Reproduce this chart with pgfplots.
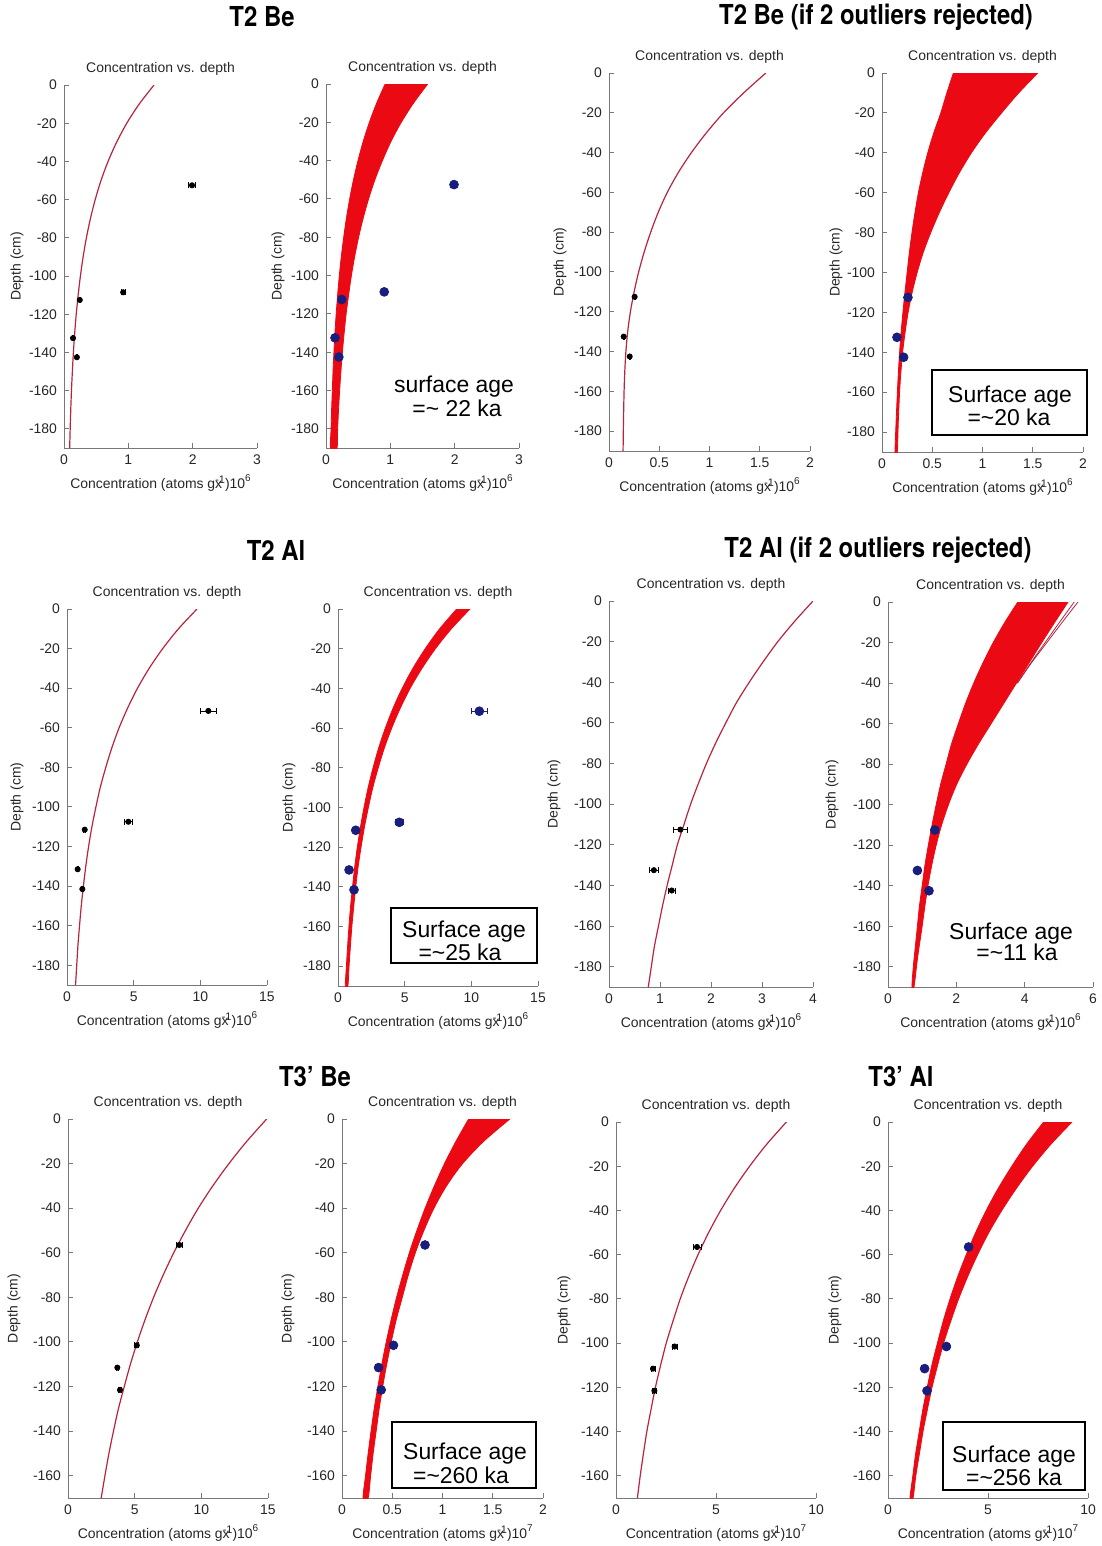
\documentclass[border=0pt]{standalone}
\usepackage{fontspec}
\setmainfont{Liberation Sans}
\newfontfamily\heros{TeX Gyre Heros}
\usepackage{pgfplots}
\pgfplotsset{compat=1.18}

\definecolor{axgray}{RGB}{120,120,120}
\definecolor{fitred}{RGB}{185,35,60}
\definecolor{bandred}{RGB}{235,10,20}
\definecolor{dotblue}{RGB}{25,30,125}

\newcommand{\xlab}[1]{Concentration (atoms g\rlap{x}\raisebox{0.7ex}{\fontsize{5.5}{5.5}\selectfont -1})10\raisebox{0.9ex}{\fontsize{5}{5}\selectfont #1}}

\pgfplotsset{
  pnl/.style={
    scale only axis,
    axis lines*=left,
    axis line style={draw=axgray, line width=0.5bp},
    tick style={draw=axgray, line width=0.5bp},
    tick align=inside,
    major tick length=2.5bp,
    xmin=0, ymax=0,
    clip=true,
    /pgf/number format/assume math mode=true,
    ticklabel style={font=\fontsize{7}{8}\selectfont, text=black!85},
    title={Concentration vs. depth},
    title style={font=\fontsize{7}{8}\selectfont, text=black!85,
      at={(axis description cs:0.5,1)}, anchor=center, yshift=2bp},
    ylabel={Depth (cm)},
    label style={font=\fontsize{7}{8}\selectfont, text=black!85},
    xlabel style={at={([yshift=-17.5bp]axis description cs:0.5,0)}, anchor=center},
  },
  dl/.style={ylabel style={at={([xshift=-#1]axis description cs:0,0.5)}, anchor=center}},
  rowa/.style={ymin=-190, ytick={-180,-160,-140,-120,-100,-80,-60,-40,-20,0},
    yticklabels={-180,-160,-140,-120,-100,-80,-60,-40,-20,0}},
  rowc/.style={ymin=-170, ytick={-160,-140,-120,-100,-80,-60,-40,-20,0},
    yticklabels={-160,-140,-120,-100,-80,-60,-40,-20,0}},
  fit/.style={fitred, line width=0.6bp, no marks, smooth},
  band/.style={fill=bandred, draw=bandred, line width=0.4bp, no marks, smooth},
  blk/.style={only marks, mark=*, mark size=1.3bp, black,
    error bars/.cd, x dir=both, x explicit,
    error bar style={line width=0.4bp, black},
    error mark options={rotate=90, mark size=1.5bp, line width=0.4bp, black}},
  blu/.style={only marks, mark=*, mark size=2.2bp, dotblue,
    mark options={fill=dotblue, draw=dotblue},
    error bars/.cd, x dir=both, x explicit,
    error bar style={line width=0.4bp, dotblue},
    error mark options={rotate=90, mark size=1.5bp, line width=0.4bp, dotblue}},
}

\tikzset{
  big/.style={font=\heros\bfseries\fontsize{12}{14}\selectfont},
  age/.style={font=\fontsize{11.5}{12}\selectfont, anchor=base},
  agebox/.style={draw=black, line width=1.2bp},
}

\begin{document}
\begin{tikzpicture}
\useasboundingbox (0,0) rectangle (551bp,-773bp);

% ---------------- row 1 : T2 Be ----------------
\node[big] at (131bp,-8.5bp) {\scalebox{1}[1.15]{T2 Be}};
\node[big] at (438bp,-8.5bp) {\scalebox{1}[1.15]{T2 Be (if 2 outliers rejected)}};

\begin{axis}[pnl, rowa, dl=23.5bp, at={(32bp,-224bp)}, anchor=south west,
  width=96.5bp, height=181.5bp, xmax=3,
  xtick={0,1,2,3}, xticklabels={0,1,2,3}, xlabel={\xlab{6}}]
\addplot[fit] coordinates {(1.40,0) (1.168,-10) (0.976,-20) (0.817,-30) (0.685,-40)
  (0.575,-50) (0.485,-60) (0.41,-70) (0.348,-80) (0.297,-90) (0.255,-100) (0.22,-110)
  (0.19,-120) (0.166,-130) (0.146,-140) (0.13,-150) (0.116,-160) (0.105,-170)
  (0.096,-180) (0.088,-190)};
\addplot[blk] coordinates {(1.99,-52.5) +- (0.06,0) (0.92,-108.5) +- (0.03,0)
  (0.245,-112.5) +- (0.01,0) (0.14,-132.5) +- (0.01,0) (0.2,-142.5) +- (0.01,0)};
\end{axis}

\begin{axis}[pnl, rowa, dl=24bp, at={(163bp,-224bp)}, anchor=south west,
  width=96.5bp, height=182bp, xmax=3,
  xtick={0,1,2,3}, xticklabels={0,1,2,3}, xlabel={\xlab{6}}]
\addplot[band] coordinates {(0.92,0) (0.787,-10) (0.674,-20) (0.578,-30) (0.497,-40)
  (0.427,-50) (0.368,-60) (0.317,-70) (0.275,-80) (0.238,-90) (0.207,-100) (0.181,-110)
  (0.158,-120) (0.139,-130) (0.123,-140) (0.109,-150) (0.098,-160) (0.087,-170)
  (0.079,-180) (0.072,-190)
  (0.17,-190) (0.181,-180) (0.195,-170) (0.212,-160) (0.232,-150) (0.255,-140)
  (0.282,-130) (0.313,-120) (0.352,-110) (0.395,-100) (0.446,-90) (0.507,-80)
  (0.578,-70) (0.662,-60) (0.76,-50) (0.877,-40) (1.01,-30) (1.17,-20) (1.36,-10) (1.58,0)};
\addplot[blu] coordinates {(1.99,-52.5) +- (0.05,0) (0.905,-108.5) +- (0.03,0)
  (0.245,-112.5) +- (0.01,0) (0.14,-132.5) +- (0.01,0) (0.2,-142.5) +- (0.01,0)};
\end{axis}
\node[age] at (227bp,-196bp) {surface age};
\node[age] at (228.5bp,-208bp) {=\textasciitilde{} 22 ka};

\begin{axis}[pnl, rowa, dl=24.5bp, at={(304.5bp,-225.5bp)}, anchor=south west,
  width=100.5bp, height=189bp, xmax=2,
  xtick={0,0.5,1,1.5,2}, xticklabels={0,0.5,1,1.5,2}, xlabel={\xlab{6}}]
\addplot[fit] coordinates {(1.56,0) (1.34,-10) (1.14,-20) (0.97,-30) (0.82,-40)
  (0.69,-50) (0.58,-60) (0.49,-70) (0.415,-80) (0.35,-90) (0.295,-100) (0.25,-110)
  (0.213,-120) (0.186,-130) (0.168,-140) (0.157,-150) (0.15,-160) (0.144,-175)
  (0.14,-190)};
\addplot[blk] coordinates {(0.255,-112.5) +- (0.005,0) (0.146,-132.5) +- (0.005,0)
  (0.206,-142.5) +- (0.005,0)};
\end{axis}

\begin{axis}[pnl, rowa, dl=23bp, at={(441bp,-226bp)}, anchor=south west,
  width=100.5bp, height=189.5bp, xmax=2,
  xtick={0,0.5,1,1.5,2}, xticklabels={0,0.5,1,1.5,2}, xlabel={\xlab{6}}]
\addplot[band] coordinates {(0.71,0) (0.645,-10) (0.585,-20) (0.515,-30) (0.455,-40)
  (0.405,-50) (0.362,-60) (0.328,-70) (0.298,-80) (0.272,-90) (0.25,-100) (0.228,-110)
  (0.208,-120) (0.19,-130) (0.175,-140) (0.163,-150) (0.153,-160) (0.14,-175) (0.13,-190)
  (0.152,-190) (0.162,-175) (0.175,-160) (0.188,-150) (0.205,-140) (0.23,-130)
  (0.26,-120) (0.30,-110) (0.35,-100) (0.41,-90) (0.485,-80) (0.57,-70) (0.665,-60)
  (0.77,-50) (0.89,-40) (1.03,-30) (1.19,-20) (1.36,-10) (1.55,0)};
\addplot[blu] coordinates {(0.258,-112.5) (0.149,-132.5) (0.215,-142.5)};
\end{axis}
\draw[agebox] (466bp,-185bp) rectangle (543.5bp,-217.5bp);
\node[age] at (505bp,-201bp) {Surface age};
\node[age] at (504.5bp,-212.5bp) {=\textasciitilde20 ka};

% ---------------- row 2 : T2 Al ----------------
\node[big] at (138bp,-275bp) {\scalebox{1}[1.15]{T2 Al}};
\node[big] at (439bp,-275bp) {\scalebox{1}[1.15]{T2 Al (if 2 outliers rejected)}};

\begin{axis}[pnl, rowa, dl=25bp, at={(33.5bp,-492.5bp)}, anchor=south west,
  width=100bp, height=188bp, xmax=15,
  xtick={0,5,10,15}, xticklabels={0,5,10,15}, xlabel={\xlab{6}}]
\addplot[fit] coordinates {(9.75,0) (8.36,-10) (7.18,-20) (6.16,-30) (5.29,-40)
  (4.55,-50) (3.91,-60) (3.37,-70) (2.91,-80) (2.5,-90) (2.17,-100) (1.87,-110)
  (1.62,-120) (1.41,-130) (1.23,-140) (1.07,-150) (0.94,-160) (0.82,-170)
  (0.73,-180) (0.64,-190)};
\addplot[blk] coordinates {(10.6,-51.5) +- (0.6,0) (4.6,-107.5) +- (0.3,0)
  (1.33,-111.5) +- (0.08,0) (0.8,-131.5) +- (0.05,0) (1.15,-141.5) +- (0.06,0)};
\end{axis}

\begin{axis}[pnl, rowa, dl=24.5bp, at={(169bp,-493bp)}, anchor=south west,
  width=100bp, height=188.5bp, xmax=15,
  xtick={0,5,10,15}, xticklabels={0,5,10,15}, xlabel={\xlab{6}}]
\addplot[band] coordinates {(8.9,0) (7.62,-10) (6.54,-20) (5.61,-30) (4.81,-40)
  (4.13,-50) (3.55,-60) (3.05,-70) (2.63,-80) (2.26,-90) (1.95,-100) (1.68,-110)
  (1.45,-120) (1.25,-130) (1.09,-140) (0.94,-150) (0.82,-160) (0.72,-170)
  (0.63,-180) (0.55,-190)
  (0.74,-190) (0.83,-180) (0.93,-170) (1.04,-160) (1.18,-150) (1.33,-140) (1.51,-130)
  (1.73,-120) (1.98,-110) (2.28,-100) (2.61,-90) (3.02,-80) (3.48,-70) (4.03,-60)
  (4.67,-50) (5.41,-40) (6.29,-30) (7.31,-20) (8.5,-10) (9.9,0)};
\addplot[blu] coordinates {(10.6,-51.5) +- (0.6,0) (4.6,-107.5) +- (0.3,0)
  (1.33,-111.5) +- (0.08,0) (0.83,-131.5) +- (0.05,0) (1.2,-141.5) +- (0.06,0)};
\end{axis}
\draw[agebox] (195.5bp,-454bp) rectangle (268.5bp,-481.5bp);
\node[age] at (232bp,-468.5bp) {Surface age};
\node[age] at (230bp,-480bp) {=\textasciitilde25 ka};

\begin{axis}[pnl, rowa, dl=27.5bp, at={(304.5bp,-493.5bp)}, anchor=south west,
  width=102bp, height=193bp, xmax=4,
  xtick={0,1,2,3,4}, xticklabels={0,1,2,3,4}, xlabel={\xlab{6}}]
\addplot[fit] coordinates {(4.0,0) (3.64,-10) (3.31,-20) (3.02,-30) (2.75,-40)
  (2.5,-50) (2.29,-60) (2.09,-70) (1.91,-80) (1.75,-90) (1.6,-100) (1.47,-110)
  (1.34,-120) (1.24,-130) (1.14,-140) (1.05,-150) (0.97,-160) (0.89,-170)
  (0.83,-180) (0.77,-190)};
\addplot[blk] coordinates {(1.4,-112.5) +- (0.14,0) (0.88,-132.5) +- (0.09,0)
  (1.23,-142.5) +- (0.07,0)};
\end{axis}

\begin{axis}[pnl, rowa, dl=28bp, at={(444bp,-493.5bp)}, anchor=south west,
  width=102.5bp, height=192.5bp, xmax=6,
  xtick={0,2,4,6}, xticklabels={0,2,4,6}, xlabel={\xlab{6}}]
\addplot[band] coordinates {(3.8,0) (3.42,-10) (3.08,-20) (2.78,-30) (2.51,-40)
  (2.27,-50) (2.06,-60) (1.86,-70) (1.70,-80) (1.54,-90) (1.41,-100) (1.29,-110)
  (1.18,-120) (1.08,-130) (1.0,-140) (0.92,-150) (0.86,-160) (0.80,-170) (0.74,-180)
  (0.70,-190)
  (0.76,-190) (0.87,-175) (1.0,-160) (1.08,-150) (1.17,-140) (1.28,-130) (1.41,-120)
  (1.57,-110) (1.77,-100) (2.01,-90) (2.31,-80) (2.65,-70) (3.02,-60) (3.39,-50)
  (3.76,-40) (4.13,-30) (4.5,-20) (4.88,-10) (5.27,0)};
\addplot[fit, line width=0.4bp] coordinates {(5.45,0) (5.02,-10) (4.6,-20) (4.18,-30) (3.78,-40)};
\addplot[fit, line width=0.4bp] coordinates {(5.56,0) (5.1,-10) (4.65,-20) (4.2,-30) (3.79,-40)};
\addplot[blu] coordinates {(1.37,-112.5) (0.86,-132.5) (1.2,-142.5)};
\end{axis}
\node[age] at (505.5bp,-469.5bp) {Surface age};
\node[age] at (508.5bp,-480bp) {=\textasciitilde11 ka};

% ---------------- row 3 : T3' Be and T3' Al ----------------
\node[big] at (157.5bp,-538.5bp) {\scalebox{1}[1.15]{T3’ Be}};
\node[big] at (450.5bp,-538.5bp) {\scalebox{1}[1.15]{T3’ Al}};

\begin{axis}[pnl, rowc, dl=27bp, at={(34bp,-749bp)}, anchor=south west,
  width=100bp, height=189.5bp, xmax=15,
  xtick={0,5,10,15}, xticklabels={0,5,10,15}, xlabel={\xlab{6}}]
\addplot[fit] coordinates {(14.9,0) (13.41,-10) (12.07,-20) (10.86,-30) (9.77,-40)
  (8.81,-50) (7.93,-60) (7.14,-70) (6.42,-80) (5.78,-90) (5.2,-100) (4.68,-110)
  (4.22,-120) (3.78,-130) (3.41,-140) (3.07,-150) (2.77,-160) (2.49,-170)};
\addplot[blk] coordinates {(8.35,-56.5) +- (0.2,0) (5.16,-101.5) +- (0.15,0)
  (3.7,-111.5) +- (0.1,0) (3.9,-121.5) +- (0.1,0)};
\end{axis}

\begin{axis}[pnl, rowc, dl=27bp, at={(171bp,-749bp)}, anchor=south west,
  width=100.5bp, height=189.5bp, xmax=2,
  xtick={0,0.5,1,1.5,2}, xticklabels={0,0.5,1,1.5,2}, xlabel={\xlab{7}}]
\addplot[band] coordinates {(1.26,0) (1.134,-10) (1.02,-20) (0.919,-30) (0.827,-40)
  (0.745,-50) (0.67,-60) (0.604,-70) (0.543,-80) (0.489,-90) (0.44,-100) (0.396,-110)
  (0.357,-120) (0.32,-130) (0.289,-140) (0.26,-150) (0.234,-160) (0.21,-170)
  (0.26,-170) (0.285,-160) (0.31,-150) (0.34,-140) (0.37,-130) (0.405,-120)
  (0.445,-110) (0.49,-100) (0.54,-90) (0.6,-80) (0.66,-70) (0.73,-60) (0.815,-50)
  (0.915,-40) (1.04,-30) (1.2,-20) (1.41,-10) (1.67,0)};
\addplot[blu] coordinates {(0.826,-56.5) (0.512,-101.5) (0.364,-111.5) (0.39,-121.5)};
\end{axis}
\draw[agebox] (196bp,-711bp) rectangle (268bp,-744bp);
\node[age] at (232.5bp,-729.5bp) {Surface age};
\node[age] at (230.5bp,-741.5bp) {=\textasciitilde260 ka};

\begin{axis}[pnl, rowc, dl=26bp, at={(308bp,-749bp)}, anchor=south west,
  width=100bp, height=188bp, xmax=10,
  xtick={0,5,10}, xticklabels={0,5,10}, xlabel={\xlab{7}}]
\addplot[fit] coordinates {(8.52,0) (7.54,-10) (6.68,-20) (5.91,-30) (5.23,-40)
  (4.63,-50) (4.1,-60) (3.63,-70) (3.21,-80) (2.85,-90) (2.51,-100) (2.23,-110)
  (1.97,-120) (1.75,-130) (1.54,-140) (1.37,-150) (1.21,-160) (1.07,-170)};
\addplot[blk] coordinates {(4.05,-56.5) +- (0.2,0) (2.93,-101.5) +- (0.12,0)
  (1.85,-111.5) +- (0.1,0) (1.92,-121.5) +- (0.08,0)};
\end{axis}

\begin{axis}[pnl, rowc, dl=26.5bp, at={(444bp,-749bp)}, anchor=south west,
  width=100bp, height=188bp, xmax=10,
  xtick={0,5,10}, xticklabels={0,5,10}, xlabel={\xlab{7}}]
\addplot[band] coordinates {(7.78,0) (6.93,-10) (6.19,-20) (5.51,-30) (4.91,-40)
  (4.38,-50) (3.91,-60) (3.48,-70) (3.10,-80) (2.76,-90) (2.47,-100) (2.19,-110)
  (1.96,-120) (1.74,-130) (1.56,-140) (1.38,-150) (1.24,-160) (1.10,-170)
  (1.25,-170) (1.39,-160) (1.57,-150) (1.75,-140) (1.97,-130) (2.20,-120) (2.48,-110)
  (2.78,-100) (3.14,-90) (3.53,-80) (3.98,-70) (4.48,-60) (5.04,-50) (5.69,-40)
  (6.42,-30) (7.23,-20) (8.15,-10) (9.2,0)};
\addplot[blu] coordinates {(4.03,-56.5) (2.92,-101.5) (1.83,-111.5) (1.95,-121.5)};
\end{axis}
\draw[agebox] (471.5bp,-711bp) rectangle (542.5bp,-745bp);
\node[age] at (507bp,-731bp) {Surface age};
\node[age] at (507bp,-742.5bp) {=\textasciitilde256 ka};

\end{tikzpicture}
\end{document}
